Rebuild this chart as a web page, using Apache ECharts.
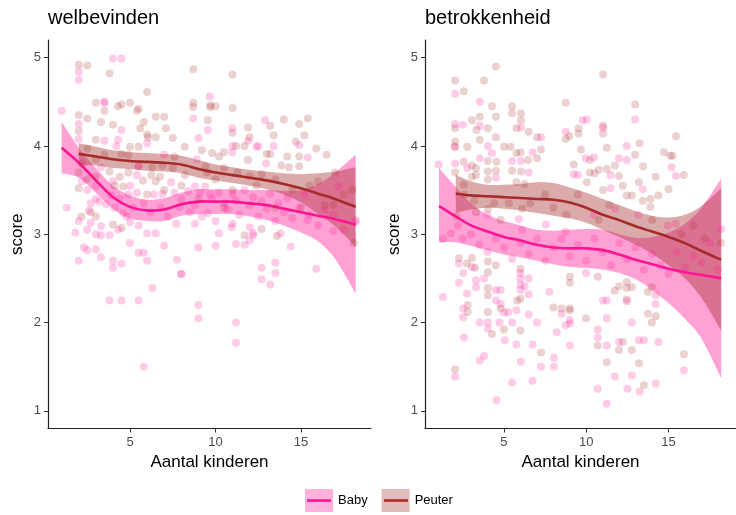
<!DOCTYPE html>
<html>
<head>
<meta charset="utf-8">
<script src="https://cdn.jsdelivr.net/npm/echarts@6/dist/echarts.min.js"></script>
<style>
  html, body { margin: 0; padding: 0; background: #fff; }
  #chart { width: 736px; height: 515px; }
</style>
</head>
<body>
<div id="chart"></div>
<script>
// tick labels
const xTicks = [5, 10, 15]
const yTicks = [1, 2, 3, 4, 5]
const titles = ['welbevinden', 'betrokkenheid']
const groups = ['Baby', 'Peuter']

// ---- welbevinden: punten
const welBabyPts = [
  [1.0, 4.40], [1.3, 3.30], [1.8, 3.02], [2.0, 4.84], [2.0, 4.75], [2.0, 4.25], [2.0, 4.08], [2.0, 2.70],
  [2.3, 2.85], [2.5, 2.82], [2.6, 3.27], [2.7, 3.35], [2.7, 3.13], [3.0, 2.83], [3.3, 2.74], [3.3, 3.76],
  [3.2, 3.37], [3.3, 3.09], [3.3, 2.99], [3.5, 4.49], [3.5, 4.06], [3.5, 4.50], [3.6, 3.34], [3.8, 2.25],
  [3.8, 2.99], [3.9, 3.44], [4.0, 4.99], [4.0, 2.70], [4.0, 2.62], [4.1, 3.30], [4.2, 4.00], [4.3, 4.07],
  [4.4, 3.40], [4.5, 4.99], [4.5, 4.18], [4.5, 2.25], [4.5, 2.67], [4.6, 3.24], [4.9, 3.45], [5.0, 3.14],
  [5.0, 2.90], [5.4, 3.67], [5.4, 3.47], [5.5, 3.77], [5.5, 3.10], [5.5, 2.25], [5.5, 2.79], [5.8, 2.79],
  [5.8, 1.50], [6.0, 4.03], [6.0, 2.70], [6.0, 3.01], [6.3, 2.39], [6.4, 3.45], [6.5, 3.01], [6.9, 3.46],
  [7.0, 3.90], [7.0, 2.87], [7.4, 3.59], [7.6, 3.47], [7.7, 3.12], [7.75, 2.71], [7.9, 3.31], [8.0, 2.55],
  [8.0, 2.55], [8.4, 3.49], [8.7, 4.31], [8.8, 3.54], [8.8, 3.33], [8.8, 3.12], [8.9, 3.85], [9.0, 4.09],
  [9.0, 2.85], [9.0, 2.20], [9.0, 2.05], [9.1, 3.47], [9.4, 3.54], [9.55, 3.24], [9.55, 4.18], [9.66, 4.56],
  [9.7, 3.45], [10.0, 2.87], [10.2, 3.01], [10.95, 3.08], [10.98, 4.20], [10.98, 3.93], [11.0, 4.00],
  [11.2, 2.00], [11.2, 1.77], [11.2, 2.89], [11.7, 2.88], [11.9, 4.06], [12.0, 2.93], [12.2, 3.01],
  [12.2, 2.99], [12.4, 3.99], [12.5, 4.00], [12.7, 2.62], [12.7, 2.49], [12.9, 4.29], [12.96, 3.80],
  [13.2, 2.43], [13.4, 4.00], [13.5, 2.68], [13.5, 2.56], [13.8, 3.01], [14.4, 2.86], [14.9, 4.01],
  [15.4, 3.87], [15.4, 3.16], [15.9, 2.61], [16.9, 3.04], [17.2, 3.54], [18.2, 3.16], [18.2, 3.14],
  [9.8, 3.40], [10.2, 3.47], [10.5, 3.35], [10.7, 3.28], [11.0, 3.45], [11.2, 3.38], [11.4, 3.22],
  [11.7, 3.50], [12.0, 3.33], [12.2, 3.42], [12.5, 3.20], [12.7, 3.37], [13.0, 3.29], [13.2, 3.46],
  [13.5, 3.15], [13.7, 3.35], [14.0, 3.25], [14.2, 3.41], [14.5, 3.18], [14.9, 3.30], [15.2, 3.45],
  [15.5, 3.22], [16.0, 3.10], [16.4, 3.28], [16.9, 3.22], [17.5, 3.05], [11.0, 3.12], [12.0, 3.08],
  [10.0, 3.15], [9.2, 3.20], [8.5, 3.25], [8.0, 3.40], [7.2, 3.20], [6.8, 3.30], [6.2, 3.25], [5.8, 3.35],
  [5.2, 3.30], [4.8, 3.20], [3.0, 3.40], [2.5, 3.50], [2.2, 3.60], [3.0, 3.55], [4.0, 3.60], [5.0, 3.55],
  [2.0, 3.15], [2.5, 3.05], [3.0, 3.00], [4.3, 3.05]
]
const welPeuterPts = [
  [2.0, 4.92], [2.5, 4.91], [3.8, 4.82], [8.7, 4.87], [6.0, 4.61], [3.0, 4.49], [3.5, 4.40], [4.3, 4.45],
  [4.5, 4.47], [5.0, 4.49], [5.5, 4.42], [5.4, 4.40], [8.7, 4.49], [8.7, 4.44], [9.7, 4.44], [2.0, 4.35],
  [2.5, 4.31], [3.3, 4.27], [4.0, 4.24], [5.8, 4.27], [5.6, 4.20], [6.0, 4.13], [6.5, 4.33], [7.0, 4.33],
  [7.1, 4.20], [2.0, 4.17], [6.05, 4.10], [6.5, 4.10], [3.0, 4.07], [7.5, 4.09], [5.0, 3.99], [5.5, 3.99],
  [8.2, 3.99], [9.2, 3.95], [4.5, 3.91], [4.9, 3.90], [7.6, 3.88], [3.0, 3.85], [5.5, 3.77], [6.3, 3.76],
  [6.9, 3.78], [9.4, 3.77], [3.8, 3.71], [4.4, 3.65], [4.9, 3.70], [6.25, 3.67], [6.75, 3.65], [8.2, 3.67],
  [2.0, 3.52], [4.1, 3.55], [4.6, 3.54], [5.76, 3.61], [2.15, 3.20], [4.0, 3.11], [4.5, 3.07], [2.5, 3.97],
  [2.2, 3.80], [2.0, 3.70], [2.5, 3.62], [3.0, 3.65], [3.5, 3.90], [3.0, 3.20], [2.7, 3.25],
  [11.0, 4.81], [9.7, 4.46], [10.0, 4.45], [11.0, 4.43], [9.55, 4.29], [13.2, 4.23], [14.9, 4.25],
  [15.4, 4.31], [11.9, 4.21], [11.0, 4.15], [13.4, 4.12], [15.2, 4.12], [15.9, 3.97], [14.7, 4.05],
  [11.2, 4.00], [11.7, 4.00], [9.8, 3.92], [10.5, 3.93], [10.2, 3.88], [13.0, 3.91], [13.2, 3.91],
  [14.2, 3.88], [14.9, 3.88], [11.9, 3.84], [13.85, 3.78], [14.3, 3.76], [14.9, 3.77], [10.5, 3.75],
  [11.3, 3.70], [12.0, 3.66], [12.7, 3.68], [13.5, 3.62], [10.0, 3.62], [9.5, 3.70], [16.4, 3.33],
  [16.9, 3.33], [11.7, 2.99], [12.7, 3.06], [13.6, 2.98], [18.1, 2.90], [17.5, 3.45], [18.0, 3.50],
  [16.0, 3.60], [15.5, 3.55], [14.5, 3.50], [12.4, 3.55], [11.0, 3.50], [8.0, 3.55], [7.0, 3.50],
  [6.5, 3.60], [9.0, 3.40], [10.5, 3.30], [15.0, 3.30], [17.0, 3.70], [16.5, 3.90], [12.0, 4.10],
  [14.0, 4.30], [13.5, 3.30], [6.0, 3.45], [7.5, 3.75]
]

// ---- betrokkenheid: punten
const betBabyPts = [
  [1.03, 3.79], [2.03, 4.59], [2.03, 4.25], [2.5, 4.24], [2.0, 3.99], [2.03, 3.80], [2.77, 3.75],
  [3.53, 4.50], [3.53, 4.23], [3.53, 3.86], [4.02, 4.00], [4.27, 3.92], [4.51, 3.64], [5.49, 3.83],
  [6.03, 3.83], [6.03, 4.21], [6.5, 3.70], [6.74, 3.93], [7.25, 4.10], [8.75, 4.16], [9.24, 3.68],
  [9.49, 3.67], [9.78, 4.29], [10.03, 4.30], [9.97, 3.86], [10.46, 3.87], [11.02, 4.21], [11.48, 3.67],
  [11.48, 3.52], [11.99, 3.86], [12.46, 3.84], [12.46, 4.00], [12.97, 4.30], [13.44, 3.51], [15.19, 3.76],
  [15.45, 3.66], [11.75, 3.29], [10.46, 3.22], [13.16, 3.22], [15.45, 3.12], [14.96, 3.10], [18.2, 3.06],
  [4.0, 3.22], [5.9, 3.17], [6.1, 3.05], [7.55, 3.11], [8.73, 3.03], [1.78, 3.01],
  [1.3, 2.95], [2.2, 3.10], [2.5, 2.95], [3.0, 3.00], [3.5, 2.88], [4.0, 2.80], [4.5, 2.95], [5.0, 2.85],
  [5.5, 2.72], [6.0, 2.90], [6.5, 2.78], [7.0, 2.95], [7.5, 2.70], [8.0, 2.85], [8.5, 2.95], [9.0, 2.75],
  [9.5, 2.88], [10.0, 2.70], [10.5, 2.95], [11.0, 2.80], [11.5, 2.65], [12.0, 2.90], [12.5, 2.72],
  [13.0, 2.85], [13.5, 2.60], [14.0, 2.78], [14.5, 2.65], [15.0, 2.55], [15.5, 2.80], [16.0, 2.62],
  [16.5, 2.75], [17.0, 2.68], [17.5, 2.90], [18.0, 2.60],
  [1.29, 2.29], [2.26, 2.67], [3.05, 2.63], [2.52, 2.56], [2.26, 2.45], [3.3, 2.48], [3.3, 2.40],
  [3.79, 2.50], [2.75, 2.33], [4.51, 2.37], [4.8, 2.37], [4.51, 2.25], [4.8, 2.21], [2.52, 2.16],
  [2.52, 2.06], [5.0, 2.11], [5.25, 2.12], [5.76, 2.14], [6.0, 2.37], [6.0, 2.43], [6.0, 2.50], [6.5, 2.50],
  [6.5, 2.32], [6.5, 2.09], [6.25, 2.41], [6.0, 2.56], [3.53, 2.00], [4.02, 2.00], [4.02, 1.93], [4.72, 2.00],
  [5.5, 2.00], [7.01, 2.00], [7.75, 2.35], [8.5, 2.10], [9.0, 2.03], [9.0, 1.99], [8.2, 1.89], [8.75, 1.97],
  [9.0, 1.74], [2.56, 1.83], [5.05, 1.80], [5.76, 1.75], [6.74, 1.75], [8.03, 1.60], [8.03, 1.50],
  [7.25, 1.50], [3.79, 1.62], [3.53, 1.57], [6.03, 1.56], [2.03, 1.39], [5.5, 1.32], [6.74, 1.34],
  [4.55, 1.12], [9.98, 2.56], [12.46, 2.24], [14.22, 2.31], [14.22, 2.21], [11.02, 2.25], [11.25, 2.25],
  [11.25, 2.05], [10.7, 1.92], [10.7, 1.83], [11.25, 1.74], [11.99, 1.78], [12.77, 2.00], [13.2, 1.80],
  [13.5, 1.80], [14.38, 1.78], [11.73, 1.39], [12.77, 1.40], [13.24, 1.22], [14.22, 1.31], [12.5, 1.25],
  [10.7, 1.25], [11.25, 1.08], [15.93, 1.46]
]
const betPeuterPts = [
  [4.51, 4.90], [2.03, 4.74], [3.79, 4.74], [2.56, 4.62], [4.27, 4.45], [5.49, 4.45], [6.03, 4.37],
  [5.49, 4.37], [4.51, 4.33], [8.75, 4.49], [3.53, 4.33], [3.05, 4.29], [2.03, 4.20], [4.02, 4.20],
  [3.33, 4.18], [3.53, 4.07], [5.76, 4.20], [6.03, 4.29], [6.5, 4.16], [8.75, 4.08], [8.97, 4.11],
  [7.01, 4.10], [4.51, 4.10], [2.03, 4.05], [2.03, 3.99], [2.77, 3.99], [5.0, 3.99], [5.4, 3.99],
  [6.01, 3.93], [5.76, 3.92], [7.25, 3.96], [2.56, 3.82], [3.05, 3.78], [6.47, 3.84], [7.01, 3.86],
  [4.02, 3.83], [4.55, 3.82], [3.3, 3.75], [3.3, 3.67], [4.51, 3.72], [4.02, 3.71], [5.49, 3.72],
  [6.03, 3.71], [2.03, 3.70], [3.05, 3.65], [4.02, 3.62], [5.76, 3.59], [6.25, 3.57], [2.56, 3.56],
  [9.24, 3.79], [2.6, 3.45], [3.2, 3.38], [4.4, 3.35], [4.8, 3.16], [4.02, 3.29], [3.3, 3.25], [5.3, 3.35],
  [6.1, 3.29], [6.6, 3.35], [8.8, 3.22], [7.5, 3.45], [8.0, 3.30], [2.1, 3.20], [11.02, 4.81],
  [12.97, 4.47], [15.45, 4.11], [9.53, 4.20], [9.53, 4.14], [11.02, 4.23], [11.02, 4.14], [13.24, 4.03],
  [14.72, 3.93], [15.1, 3.89], [15.25, 3.89], [11.25, 3.98], [9.68, 3.96], [10.22, 3.84], [12.97, 3.90],
  [11.73, 3.78], [13.45, 3.77], [15.93, 3.67], [14.22, 3.65], [10.22, 3.70], [10.5, 3.69], [11.25, 3.74],
  [10.76, 3.73], [11.99, 3.66], [13.2, 3.59], [15.0, 3.51], [10.03, 3.59], [11.02, 3.50], [12.22, 3.55],
  [12.46, 3.44], [12.77, 3.44], [14.38, 3.44], [13.9, 3.40], [13.44, 3.38], [9.49, 3.45], [13.9, 3.31],
  [11.4, 3.33], [10.76, 3.16], [14.0, 3.16], [16.5, 3.10], [17.2, 2.95], [18.18, 2.90], [15.8, 3.00],
  [2.26, 2.73], [2.75, 2.67], [3.05, 2.73], [3.24, 2.62], [4.02, 2.69], [4.51, 2.65], [4.02, 2.57],
  [4.02, 2.39], [4.02, 2.31], [2.79, 2.20], [2.79, 2.12], [4.8, 2.16], [4.02, 2.12], [5.8, 2.25],
  [6.0, 2.27], [6.0, 2.61], [4.27, 1.87], [5.0, 1.92], [6.0, 1.91], [8.0, 2.17], [8.5, 2.16], [9.0, 2.14],
  [9.0, 2.16], [7.25, 1.66], [2.03, 1.47], [10.7, 2.52], [11.73, 2.36], [11.99, 2.41], [12.46, 2.46],
  [12.46, 2.39], [12.46, 2.26], [12.77, 2.40], [13.75, 2.35], [13.98, 2.40], [13.75, 2.10], [14.22, 2.07],
  [13.98, 2.00], [9.98, 2.05], [10.7, 1.74], [12.22, 1.78], [11.99, 1.69], [12.77, 1.69], [11.25, 1.55],
  [13.2, 1.54], [13.5, 1.29], [15.93, 1.64], [9.0, 2.45], [9.0, 2.52]
]

// ---- loess lijnen + betrouwbaarheidsband
const welBabyX = [1.0, 2, 3, 4, 5, 6, 7, 8, 9, 10, 11, 12, 13, 14, 15, 16, 17, 18.2]
const welBabyFit = [3.98, 3.81, 3.61, 3.42, 3.31, 3.27, 3.28, 3.34, 3.37, 3.37, 3.37, 3.35, 3.33, 3.29, 3.25, 3.21, 3.17, 3.11]
const welBabyHi = [4.27, 3.98, 3.75, 3.55, 3.44, 3.39, 3.41, 3.47, 3.51, 3.51, 3.51, 3.50, 3.50, 3.49, 3.50, 3.57, 3.70, 3.90]
const welBabyLo = [3.69, 3.64, 3.47, 3.29, 3.18, 3.15, 3.15, 3.21, 3.23, 3.23, 3.23, 3.20, 3.16, 3.10, 3.02, 2.92, 2.72, 2.33]

const welPeuterX = [2.0, 3, 4, 5, 6, 7, 8, 9, 10, 11, 12, 13, 14, 15, 16, 17, 18.2]
const welPeuterFit = [3.91, 3.88, 3.85, 3.83, 3.82, 3.81, 3.79, 3.74, 3.70, 3.67, 3.64, 3.61, 3.57, 3.52, 3.46, 3.40, 3.31]
const welPeuterHi = [4.03, 3.99, 3.95, 3.93, 3.92, 3.91, 3.89, 3.84, 3.79, 3.76, 3.73, 3.71, 3.69, 3.68, 3.69, 3.71, 3.76]
const welPeuterLo = [3.78, 3.78, 3.75, 3.74, 3.72, 3.71, 3.69, 3.64, 3.61, 3.58, 3.55, 3.51, 3.45, 3.36, 3.23, 3.09, 2.86]

const betBabyX = [1.05, 2, 3, 4, 5, 6, 7, 8, 9, 10, 11, 12, 13, 14, 15, 16, 17, 18.2]
const betBabyFit = [3.32, 3.21, 3.10, 3.03, 2.97, 2.93, 2.88, 2.85, 2.84, 2.84, 2.82, 2.77, 2.71, 2.66, 2.61, 2.57, 2.54, 2.50]
const betBabyHi = [3.75, 3.55, 3.35, 3.22, 3.15, 3.10, 3.05, 3.04, 3.05, 3.06, 3.05, 3.00, 2.96, 2.97, 3.02, 3.12, 3.30, 3.63]
const betBabyLo = [2.91, 2.91, 2.87, 2.82, 2.77, 2.74, 2.70, 2.66, 2.63, 2.62, 2.60, 2.56, 2.49, 2.37, 2.22, 2.04, 1.82, 1.37]

const betPeuterX = [2.07, 3, 4, 5, 6, 7, 8, 9, 10, 11, 12, 13, 14, 15, 16, 17, 18.2]
const betPeuterFit = [3.46, 3.44, 3.43, 3.42, 3.41, 3.40, 3.39, 3.36, 3.30, 3.22, 3.16, 3.09, 3.03, 2.97, 2.90, 2.81, 2.71]
const betPeuterHi = [3.67, 3.60, 3.56, 3.56, 3.57, 3.59, 3.58, 3.53, 3.47, 3.40, 3.33, 3.26, 3.21, 3.19, 3.22, 3.32, 3.52]
const betPeuterLo = [3.24, 3.28, 3.30, 3.29, 3.27, 3.24, 3.21, 3.18, 3.13, 3.05, 2.97, 2.88, 2.78, 2.65, 2.50, 2.28, 1.91]

const pink = '#ff1493'
const brown = '#a52a2a'
const pinkBand = 'rgba(255, 20, 147, 0.4)'
const brownBand = 'rgba(165, 42, 42, 0.4)'
const pinkDot = 'rgba(255, 20, 147, 0.27)'
const brownDot = 'rgba(165, 42, 42, 0.27)'
const font = 'Liberation Sans, Arial, sans-serif'

const panels = [
  {
    baby: { pts: welBabyPts, x: welBabyX, fit: welBabyFit, lo: welBabyLo, hi: welBabyHi },
    peuter: { pts: welPeuterPts, x: welPeuterX, fit: welPeuterFit, lo: welPeuterLo, hi: welPeuterHi }
  },
  {
    baby: { pts: betBabyPts, x: betBabyX, fit: betBabyFit, lo: betBabyLo, hi: betBabyHi },
    peuter: { pts: betPeuterPts, x: betPeuterX, fit: betPeuterFit, lo: betPeuterLo, hi: betPeuterHi }
  }
]

// catmull-rom door de (pixel)punten -> svg pad
function splinePath(pts, startCmd) {
  let s = startCmd + pts[0][0] + ',' + pts[0][1]
  for (let i = 0; i < pts.length - 1; i++) {
    const p0 = pts[Math.max(i - 1, 0)]
    const p1 = pts[i]
    const p2 = pts[i + 1]
    const p3 = pts[Math.min(i + 2, pts.length - 1)]
    const c1x = p1[0] + (p2[0] - p0[0]) / 6
    const c1y = p1[1] + (p2[1] - p0[1]) / 6
    const c2x = p2[0] - (p3[0] - p1[0]) / 6
    const c2y = p2[1] - (p3[1] - p1[1]) / 6
    s += ' C' + c1x + ',' + c1y + ' ' + c2x + ',' + c2y + ' ' + p2[0] + ',' + p2[1]
  }
  return s
}

function band(name, idx, d, color) {
  return {
    name: name, type: 'custom', xAxisIndex: idx, yAxisIndex: idx, silent: true,
    data: d.x.map((x, i) => [x, d.lo[i], d.hi[i]]),
    encode: { x: 0, y: [1, 2] },
    renderItem: function(params, api) {
      if (params.dataIndex !== 0) return
      const upper = d.x.map((x, i) => api.coord([x, d.hi[i]]))
      const lower = d.x.map((x, i) => api.coord([x, d.lo[i]])).reverse()
      // boven heen, onder terug
      const path = splinePath(upper, 'M') + ' ' + splinePath(lower, 'L') + ' Z'
      return {
        type: 'path',
        shape: { pathData: path },
        style: { fill: color, stroke: null }
      }
    }
  }
}

function fitLine(name, idx, d, color) {
  return {
    name: name, type: 'custom', xAxisIndex: idx, yAxisIndex: idx, silent: true,
    data: d.x.map((x, i) => [x, d.fit[i]]),
    encode: { x: 0, y: 1 },
    renderItem: function(params, api) {
      if (params.dataIndex !== 0) return
      const pts = d.x.map((x, i) => api.coord([x, d.fit[i]]))
      return {
        type: 'path',
        shape: { pathData: splinePath(pts, 'M') },
        style: { fill: null, stroke: color, lineWidth: 2.6 }
      }
    }
  }
}

const series = []
panels.forEach((p, idx) => {
  series.push({
    name: 'Peuter', type: 'scatter', xAxisIndex: idx, yAxisIndex: idx,
    symbolSize: 8, itemStyle: { color: brownDot }, data: p.peuter.pts
  })
  series.push({
    name: 'Baby', type: 'scatter', xAxisIndex: idx, yAxisIndex: idx,
    symbolSize: 8, itemStyle: { color: pinkDot }, data: p.baby.pts
  })
  series.push(band('Baby', idx, p.baby, pinkBand))
  series.push(band('Peuter', idx, p.peuter, brownBand))
  series.push(fitLine('Baby', idx, p.baby, pink))
  series.push(fitLine('Peuter', idx, p.peuter, brown))
})

const gridLeft = [48, 425]
const axisLineStyle = { color: '#222', width: 1.2 }

const option = {
  animation: false,
  textStyle: { fontFamily: font },
  title: titles.map((t, i) => ({
    text: t, left: gridLeft[i], top: 8, padding: 0,
    textStyle: { fontSize: 20, fontWeight: 'normal', color: '#000', fontFamily: font }
  })),
  grid: gridLeft.map(l => ({ left: l, top: 40, width: 323, height: 388.5 })),
  xAxis: [0, 1].map(i => ({
    type: 'value', gridIndex: i, min: 0.2, max: 19.1,
    name: 'Aantal kinderen', nameLocation: 'middle', nameGap: 24,
    nameTextStyle: { fontSize: 17, color: '#000', fontFamily: font },
    axisLine: { show: true, onZero: false, lineStyle: axisLineStyle },
    axisTick: { show: true, length: 4, lineStyle: { color: '#333' }, customValues: xTicks },
    axisLabel: { fontSize: 13, color: '#4d4d4d', margin: 7, customValues: xTicks, fontFamily: font },
    splitLine: { show: false }
  })),
  yAxis: [0, 1].map(i => ({
    type: 'value', gridIndex: i, min: 0.8, max: 5.2,
    name: 'score', nameLocation: 'middle', nameGap: 22,
    nameTextStyle: { fontSize: 17, color: '#000', fontFamily: font },
    axisLine: { show: true, onZero: false, lineStyle: axisLineStyle },
    axisTick: { show: true, length: 4, lineStyle: { color: '#333' }, customValues: yTicks },
    axisLabel: { fontSize: 13, color: '#4d4d4d', margin: 7, customValues: yTicks, fontFamily: font },
    splitLine: { show: false }
  })),
  legend: {
    left: 305, top: 489, orient: 'horizontal', padding: 0,
    itemWidth: 28, itemHeight: 23, itemGap: 14, icon: 'rect',
    selectedMode: false,
    textStyle: { fontSize: 13, color: '#000', fontFamily: font },
    data: [
      { name: groups[0], itemStyle: { color: pinkBand } },
      { name: groups[1], itemStyle: { color: brownBand } }
    ]
  },
  // lijntje in de legendasleutels
  graphic: [
    { type: 'line', shape: { x1: 307, y1: 500.5, x2: 331, y2: 500.5 }, style: { stroke: pink, lineWidth: 2.6 } },
    { type: 'line', shape: { x1: 384, y1: 500.5, x2: 408, y2: 500.5 }, style: { stroke: brown, lineWidth: 2.6 } }
  ],
  series: series
}

const myChart = echarts.init(document.getElementById('chart'))
myChart.setOption(option)
</script>
</body>
</html>
